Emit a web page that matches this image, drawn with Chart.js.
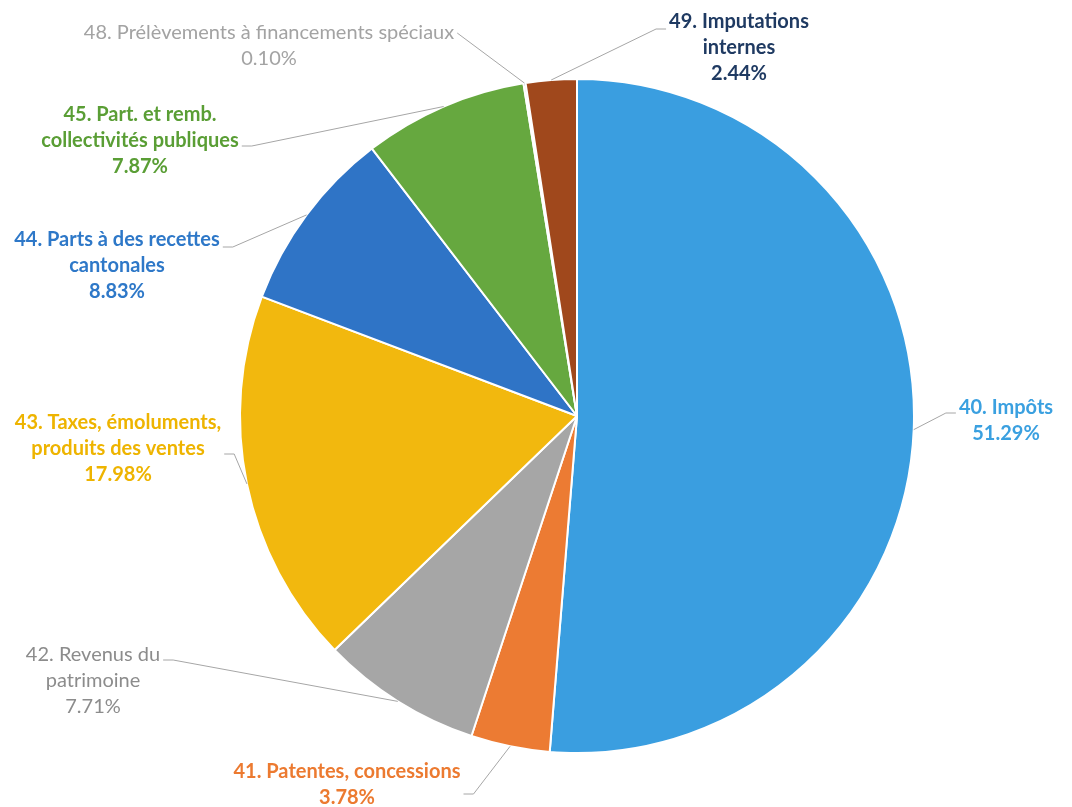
<!DOCTYPE html>
<html><head><meta charset="utf-8">
<style>html,body{margin:0;padding:0;background:#fff;}#wrap{width:1072px;height:807px;position:relative;}</style>
<script src="https://cdn.jsdelivr.net/npm/chart.js@4"></script>
</head><body><div id="wrap"><canvas id="c" width="1072" height="807"></canvas></div>
<script>
const categories = ['40. Impôts','41. Patentes, concessions','42. Revenus du patrimoine','43. Taxes, émoluments, produits des ventes','44. Parts à des recettes cantonales','45. Part. et remb. collectivités publiques','48. Prélèvements à financements spéciaux','49. Imputations internes'];
const values = [51.29, 3.78, 7.71, 17.98, 8.83, 7.87, 0.10, 2.44];
const percentLabels = ['51.29%','3.78%','7.71%','17.98%','8.83%','7.87%','0.10%','2.44%'];
const labelLines = [
  ['40. Impôts'],
  ['41. Patentes, concessions'],
  ['42. Revenus du','patrimoine'],
  ['43. Taxes, émoluments,','produits des ventes'],
  ['44. Parts à des recettes','cantonales'],
  ['45. Part. et remb.','collectivités publiques'],
  ['48. Prélèvements à financements spéciaux'],
  ['49. Imputations','internes']
];
const sliceColors = ['#3a9ee0','#ec7b33','#a6a6a6','#f2b80e','#2f74c6','#66a83f','#4a6ea8','#a0481c'];
const textColors = ['#3aa0e0','#ec7a30','#8c8c8c','#eeb400','#2e78c8','#5a9e35','#a3a3a3','#1f3a62'];
const boldFlags = [true,true,false,true,true,true,false,true];

// label layout (annotation placement): center x, first line y, attach side, attach line, horizontal segment
const labelLayout = [
  {cx:1006, y:408, side:'l', line:0, dy:5, h:10},
  {cx:347, y:772, side:'r', line:1, dy:-4, h:10},
  {cx:93, y:655, side:'r', line:0, dy:5, h:10},
  {cx:118, y:423, side:'r', line:1, dy:5, h:10},
  {cx:117, y:240, side:'r', line:0, dy:7, h:10},
  {cx:140, y:115, side:'r', line:1, dy:5, h:10},
  {cx:269, y:33, side:'r', line:0, dy:0, h:0},
  {cx:739, y:22, side:'l', line:0, dy:7, h:10}
];
const LINE_H = 26;

const labelPlugin = {
  id:'leaderLabels',
  afterDatasetsDraw(chart){
    const ctx = chart.ctx;
    const meta = chart.getDatasetMeta(0);
    meta.data.forEach((arc, i) => {
      const L = labelLayout[i];
      const lines = labelLines[i].concat([percentLabels[i]]);
      ctx.save();
      ctx.font = (boldFlags[i] ? 'bold ' : '') + '20px Lato';
      let w = 0;
      lines.forEach(t => { w = Math.max(w, ctx.measureText(t).width); });
      const mid = (arc.startAngle + arc.endAngle) / 2;
      const px = arc.x + Math.cos(mid) * arc.outerRadius;
      const py = arc.y + Math.sin(mid) * arc.outerRadius;
      const ay = L.y + L.line * LINE_H + L.dy;
      const ax = L.side === 'r' ? L.cx + w / 2 + 3 : L.cx - w / 2 - 3;
      const ex = L.side === 'r' ? ax + L.h : ax - L.h;
      ctx.strokeStyle = '#a6a6a6';
      ctx.lineWidth = 1;
      ctx.beginPath();
      ctx.moveTo(ax, ay);
      ctx.lineTo(ex, ay);
      ctx.lineTo(px, py);
      ctx.stroke();
      ctx.fillStyle = textColors[i];
      ctx.textAlign = 'center';
      ctx.textBaseline = 'middle';
      lines.forEach((t, k) => ctx.fillText(t, L.cx, L.y + k * LINE_H));
      ctx.restore();
    });
  }
};

new Chart(document.getElementById('c'), {
  type: 'pie',
  data: {
    labels: categories,
    datasets: [{
      data: values,
      backgroundColor: sliceColors,
      borderColor: '#ffffff',
      borderWidth: 2
    }]
  },
  options: {
    responsive: false,
    animation: false,
    layout: { padding: { top: 78, bottom: 53, left: 239, right: 157 } },
    plugins: { legend: { display: false }, tooltip: { enabled: false } }
  },
  plugins: [labelPlugin]
});
</script></body></html>
